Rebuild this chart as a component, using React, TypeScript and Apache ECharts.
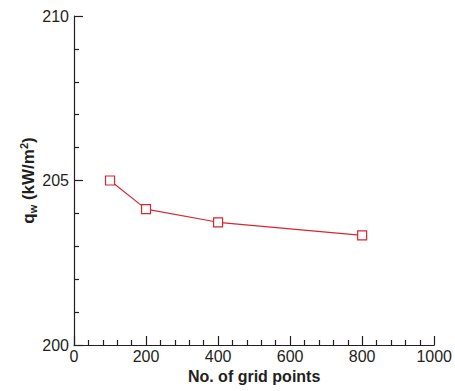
import React, { useEffect, useRef } from "react";
import * as echarts from "echarts";

const gridPoints = [100, 200, 400, 800];
const heatFlux = [205.0, 204.13, 203.73, 203.33];
const xTicks = [0, 200, 400, 600, 800, 1000];
const yTicks = [200, 205, 210];

const FONT = "'Liberation Sans', Arial, Helvetica, sans-serif";
const TEXT = "#231f20";
const RED = "#d7262e";

export default function App() {
  const ref = useRef<HTMLDivElement>(null);
  useEffect(() => {
    if (!ref.current) return;
    const chart = echarts.init(ref.current, undefined, { renderer: "svg" });
    const axisCommon = {
      axisLine: { show: true, lineStyle: { color: TEXT, width: 1.2 } },
      axisTick: { show: true, inside: true, length: 9, lineStyle: { color: TEXT, width: 1.2 } },
      minorTick: { show: true, splitNumber: 5, length: 5, lineStyle: { color: TEXT, width: 1.2 } },
      splitLine: { show: false },
      minorSplitLine: { show: false },
      nameMoveOverlap: false,
    };
    chart.setOption({
      animation: false,
      backgroundColor: "#ffffff",
      grid: { left: 74, right: 20, top: 16, bottom: 46, containLabel: false },
      xAxis: {
        type: "value",
        min: xTicks[0],
        max: xTicks[xTicks.length - 1],
        interval: xTicks[1] - xTicks[0],
        name: "No. of grid points",
        nameLocation: "middle",
        nameGap: 23,
        nameTextStyle: { fontFamily: FONT, fontSize: 16, fontWeight: "bold", color: TEXT },
        axisLabel: { fontFamily: FONT, fontSize: 16, color: TEXT, margin: 3, formatter: (v: number) => String(v) },
        ...axisCommon,
      },
      yAxis: {
        type: "value",
        min: yTicks[0],
        max: yTicks[yTicks.length - 1],
        interval: yTicks[1] - yTicks[0],
        name: "{a|q}{s|w}{a| (kW/m}{p|2}{a|)}",
        nameLocation: "middle",
        nameGap: 36,
        nameTextStyle: {
          fontFamily: FONT,
          color: TEXT,
          rich: {
            a: { fontFamily: FONT, fontSize: 17, fontWeight: "bold", color: TEXT, lineHeight: 20 },
            s: { fontFamily: FONT, fontSize: 11, fontWeight: "bold", color: TEXT, lineHeight: 10, verticalAlign: "bottom" },
            p: { fontFamily: FONT, fontSize: 11, fontWeight: "bold", color: TEXT, lineHeight: 10, verticalAlign: "top" },
          },
        },
        axisLabel: { fontFamily: FONT, fontSize: 16, color: TEXT, margin: 5, formatter: (v: number) => String(v) },
        ...axisCommon,
      },
      series: [
        {
          type: "line",
          data: gridPoints.map((x, i) => [x, heatFlux[i]]),
          symbol: "rect",
          symbolSize: 9,
          showAllSymbol: true,
          lineStyle: { color: RED, width: 1.2 },
          itemStyle: { color: "#ffffff", borderColor: RED, borderWidth: 1.2 },
        },
      ],
    });
    return () => chart.dispose();
  }, []);
  return (
    <div
      ref={ref}
      style={{ position: "fixed", left: 0, top: 0, width: 455, height: 391, background: "#fff" }}
    />
  );
}
